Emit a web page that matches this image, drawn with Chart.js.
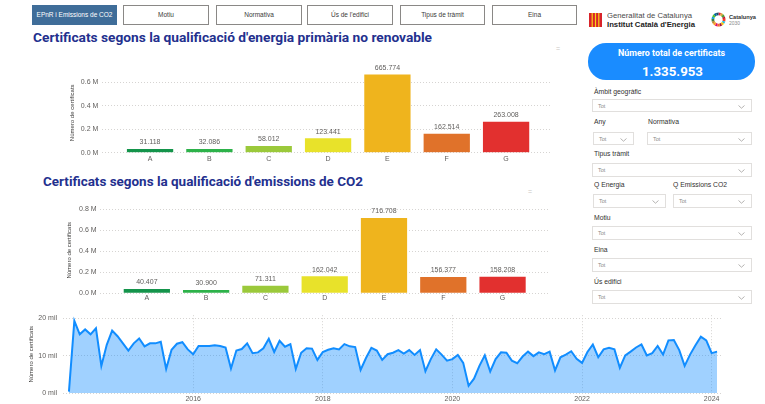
<!DOCTYPE html>
<html>
<head>
<meta charset="utf-8">
<script src="https://cdn.jsdelivr.net/npm/chart.js@4.4.1/dist/chart.umd.min.js"></script>
<style>
    body { margin: 0; width: 765px; height: 404px; background: #fff; position: relative; overflow: hidden; font-family: 'Liberation Sans', Arial, sans-serif; }
    .abs { position: absolute; }
    .btn { position: absolute; top: 5px; height: 20px; box-sizing: border-box; border: 1px solid #8a8886; background: #fff; color: #3b3a39; font-size: 6.5px; line-height: 18px; text-align: center; }
    .btn.active { background: #3f6d99; border-color: #3f6d99; color: #fff; }
    .fit { position: absolute; white-space: nowrap; transform-origin: left center; }
    .title { font-family: Roboto, sans-serif; font-weight: 700; font-size: 13px; line-height: 16px; color: #23308e; }
    .lbl { position: absolute; font-size: 6.8px; color: #323130; white-space: nowrap; }
    .dd { position: absolute; box-sizing: border-box; border: 1px solid #e1dfdd; background: #fff; }
    .dd span { position: absolute; left: 5px; top: 0; font-size: 5.5px; line-height: 12px; color: #8a8886; }
    .dd svg { position: absolute; right: 6px; top: 5px; }
    .kpi { position: absolute; left: 588px; top: 43px; width: 167px; height: 37px; border-radius: 18px; background: #1a8cff; }
    .chartbox { position: absolute; }
</style>
</head>
<body>

<div class="btn active" style="left:32px;width:85px;">EPnR i Emissions de CO2</div>
<div class="btn" style="left:123px;width:86px;">Motiu</div>
<div class="btn" style="left:216px;width:86px;">Normativa</div>
<div class="btn" style="left:307px;width:86px;">Ús de l'edifici</div>
<div class="btn" style="left:400px;width:85px;">Tipus de tràmit</div>
<div class="btn" style="left:492px;width:85px;">Eina</div>

<!-- logos -->
<svg class="abs" style="left:589px;top:13px;" width="13" height="14" viewBox="0 0 13 14">
    <rect x="0" y="0" width="13" height="14" fill="#d8232a"/>
    <rect x="2.6" y="0" width="1.2" height="14" fill="#f7d117"/>
    <rect x="5.9" y="0" width="1.2" height="14" fill="#f7d117"/>
    <rect x="9.2" y="0" width="1.2" height="14" fill="#f7d117"/>
</svg>
<div class="fit" data-w="85" style="left:607px;top:11px;font-size:8px;line-height:10px;color:#4a4a4a;">Generalitat de Catalunya</div>
<div class="fit" data-w="88" style="left:607px;top:19.5px;font-size:8px;line-height:10px;font-weight:700;color:#222;">Institut Català d'Energia</div>
<svg id="ring" class="abs" style="left:711px;top:12px;" width="15" height="15" viewBox="-7.5 -7.5 15 15"></svg>
<div class="fit" data-w="27" style="left:729px;top:13.5px;font-size:5px;line-height:6px;font-weight:700;color:#333;">Catalunya</div>
<div class="fit" data-w="11" style="left:729px;top:19.5px;font-size:5px;line-height:6px;color:#888;">2030</div>

<!-- titles -->
<div class="fit title" data-w="399" style="left:33px;top:30px;">Certificats segons la qualificació d'energia primària no renovable</div>
<div class="fit title" data-w="320" style="left:43px;top:174px;">Certificats segons la qualificació d'emissions de CO2</div>
<div class="abs" style="left:556px;top:45px;font-size:7px;color:#c8c6c4;">=</div>
<div class="abs" style="left:528px;top:188px;font-size:7px;color:#c8c6c4;">=</div>

<!-- KPI -->
<div class="kpi"></div>
<div class="fit" data-w="107" style="left:618px;top:47px;font-family:Roboto,sans-serif;font-weight:700;font-size:9.5px;line-height:12px;color:#fff;">Número total de certificats</div>
<div class="fit" data-w="61" style="left:641.5px;top:62px;font-family:Roboto,sans-serif;font-weight:700;font-size:13.5px;line-height:18px;color:#fff;">1.335.953</div>

<div id="slicers"></div>

<div class="chartbox" style="left:60px;top:50px;width:500px;height:116px;"><canvas id="chartEnergia"></canvas></div>
<div class="chartbox" style="left:60px;top:195px;width:500px;height:108px;"><canvas id="chartEmissions"></canvas></div>
<div class="chartbox" style="left:20px;top:305px;width:725px;height:99px;"><canvas id="chartMensual"></canvas></div>

<script>
// Dades
var categories = ['A', 'B', 'C', 'D', 'E', 'F', 'G'];
var energiaValues = [31118, 32086, 58012, 123441, 665774, 162514, 263008];
var emissionsValues = [40407, 30900, 71311, 162042, 716708, 156377, 158208];
var barColors = ['#14944b', '#2db24a', '#9bc93b', '#e8e22a', '#efb41d', '#e0722a', '#e2302f'];

// certificats per mes, des de febrer 2014 fins a febrer 2024
var firstYear = 2014;
var firstMonth = 2;
var monthlyValues = [
    450, 19300, 15700, 17000, 15700, 17300, 7300, 12900, 16700, 15200, 13300,           // 2014
    11400, 13300, 14600, 12500, 13300, 13300, 13700, 6500, 11600, 13200, 13600, 11700, // 2015
    10400, 12600, 12600, 12600, 12800, 12600, 12200, 6600, 11400, 11800, 13300, 10700, // 2016
    10900, 12000, 14500, 11000, 14000, 12400, 13100, 6500, 10800, 12000, 11900, 8900,  // 2017
    11000, 11600, 12000, 11700, 13100, 12500, 12300, 6200, 9400, 12100, 11400, 8900,   // 2018
    10400, 10800, 11500, 10600, 11500, 10200, 11500, 5900, 9100, 11700, 10300, 8700,   // 2019
    9100, 10200, 8100, 2000, 3900, 7300, 10100, 5800, 9100, 10900, 10800, 8700,        // 2020
    8000, 9800, 11100, 9900, 10900, 10400, 11100, 6100, 9600, 10300, 11200, 9200,      // 2021
    8100, 11000, 13000, 9600, 11700, 12100, 11700, 6800, 10100, 11100, 12200, 13000,   // 2022
    10100, 10700, 12600, 10300, 14100, 14200, 11500, 7300, 10300, 12800, 15100, 14100, // 2023
    10700, 11100                                                                      // 2024
];
var yearTicks = [2016, 2018, 2020, 2022, 2024];

var energiaTicks = [0, 200000, 400000, 600000];
var emissionsTicks = [0, 200000, 400000, 600000, 800000];
var mensualTicks = [0, 10000, 20000];

// slicers (filtres de la dreta)
var slicerLabels = [
    ['Àmbit geogràfic', 594, 88], ['Any', 594, 118], ['Normativa', 648, 118], ['Tipus tràmit', 594, 150],
    ['Q Energia', 594, 181], ['Q Emissions CO2', 673, 181], ['Motiu', 594, 214], ['Eina', 594, 246], ['Ús edifici', 594, 278]
];
var slicerBoxes = [
    [592, 99, 160, 13], [593, 131.5, 41, 13.5], [647, 131.5, 105, 13.5], [592, 163, 160, 13.5],
    [593, 194, 73, 13.5], [673, 194, 79, 13.5], [592, 226, 160, 13.5], [592, 258, 160, 13.5], [592, 290, 160, 13.5]
];

function formatThousands(v) {
    return String(v).replace(/\B(?=(\d{3})+(?!\d))/g, '.');
}

function buildSlicers() {
    var container = document.getElementById('slicers');
    slicerLabels.forEach(function(l) {
        var d = document.createElement('div');
        d.className = 'lbl';
        d.textContent = l[0];
        d.style.left = l[1] + 'px';
        d.style.top = l[2] + 'px';
        container.appendChild(d);
    });
    slicerBoxes.forEach(function(b) {
        var d = document.createElement('div');
        d.className = 'dd';
        d.style.left = b[0] + 'px';
        d.style.top = b[1] + 'px';
        d.style.width = b[2] + 'px';
        d.style.height = b[3] + 'px';
        d.innerHTML = '<span>Tot</span><svg width="7" height="4"><polyline points="0.5,0.5 3.5,3.2 6.5,0.5" fill="none" stroke="#a19f9d" stroke-width="0.8"/></svg>';
        container.appendChild(d);
    });
}

function buildRing() {
    var sdg = ['#e5243b', '#dda63a', '#4c9f38', '#c5192d', '#ff3a21', '#26bde2', '#fcc30b', '#a21942', '#fd6925',
               '#dd1367', '#fd9d24', '#bf8b2e', '#3f7e44', '#0a97d9', '#56c02b', '#00689d', '#19486a'];
    var svg = document.getElementById('ring');
    var n = sdg.length, html = '';
    for (var i = 0; i < n; i++) {
        var a0 = (i / n) * 2 * Math.PI - Math.PI / 2, a1 = ((i + 1) / n) * 2 * Math.PI - Math.PI / 2;
        var ro = 7, ri = 4.2;
        html += '<path fill="' + sdg[i] + '" d="M' + (ro * Math.cos(a0)) + ' ' + (ro * Math.sin(a0)) +
            ' A' + ro + ' ' + ro + ' 0 0 1 ' + (ro * Math.cos(a1)) + ' ' + (ro * Math.sin(a1)) +
            ' L' + (ri * Math.cos(a1)) + ' ' + (ri * Math.sin(a1)) +
            ' A' + ri + ' ' + ri + ' 0 0 0 ' + (ri * Math.cos(a0)) + ' ' + (ri * Math.sin(a0)) + ' Z"/>';
    }
    svg.innerHTML = html;
}

function fitTexts() {
    document.querySelectorAll('.fit').forEach(function(el) {
        var target = parseFloat(el.dataset.w);
        var w = el.getBoundingClientRect().width;
        if (w > 0) el.style.transform = 'scaleX(' + (target / w) + ')';
    });
}

var tickFont = { family: "'Liberation Sans', Arial, sans-serif", size: 7 };
var tickColor = '#605e5c';
var gridColor = '#d6d4d2';

// etiquetes de dades sobre les barres
var barLabels = {
    id: 'barLabels',
    afterDatasetsDraw: function(chart) {
        var ctx = chart.ctx;
        var meta = chart.getDatasetMeta(0);
        ctx.save();
        ctx.font = "7px 'Liberation Sans', Arial, sans-serif";
        ctx.fillStyle = tickColor;
        ctx.textAlign = 'center';
        ctx.textBaseline = 'bottom';
        meta.data.forEach(function(bar, i) {
            ctx.fillText(formatThousands(chart.data.datasets[0].data[i].y), bar.x, bar.y - 3);
        });
        ctx.restore();
    }
};

function barChart(canvasId, values, ticks, opts) {
    var ctx = document.getElementById(canvasId).getContext('2d');
    return new Chart(ctx, {
        type: 'bar',
        data: {
            datasets: [{
                data: values.map(function(v, i) { return { x: i, y: v }; }),
                backgroundColor: barColors,
                borderWidth: 0,
                categoryPercentage: 1,
                barPercentage: 0.78
            }]
        },
        options: {
            responsive: true,
            maintainAspectRatio: false,
            animation: false,
            layout: { padding: opts.padding },
            plugins: { legend: { display: false }, tooltip: { enabled: false } },
            scales: {
                x: {
                    type: 'linear',
                    offset: false,
                    min: opts.xMin,
                    max: opts.xMax,
                    grid: { display: false, drawTicks: false, offset: false },
                    border: { display: false },
                    afterFit: function(scale) { scale.height = opts.xHeight; },
                    ticks: {
                        stepSize: 1,
                        includeBounds: false,
                        autoSkip: false,
                        maxRotation: 0,
                        padding: opts.xPad,
                        font: tickFont,
                        color: tickColor,
                        callback: function(v) { return categories[v] !== undefined && Number.isInteger(v) ? categories[v] : null; }
                    }
                },
                y: {
                    min: 0,
                    max: opts.yMax,
                    afterFit: function(scale) { scale.width = opts.yWidth; },
                    afterBuildTicks: function(scale) { scale.ticks = ticks.map(function(t) { return { value: t }; }); },
                    grid: { color: gridColor, drawTicks: false, lineWidth: 1 },
                    border: { display: false, dash: [1, 2] },
                    title: { display: true, text: 'Número de certificats', font: { family: tickFont.family, size: 6 }, color: '#3b3a39', padding: { top: 4, bottom: 0 } },
                    ticks: {
                        padding: 3.4,
                        font: tickFont,
                        color: tickColor,
                        callback: function(v) { return (v / 1000000).toFixed(1) + ' M'; }
                    }
                }
            }
        },
        plugins: [barLabels]
    });
}

function generateMensual() {
    var ctx = document.getElementById('chartMensual').getContext('2d');
    // x = mesos des de gener de l'any inicial
    var points = monthlyValues.map(function(v, i) { return { x: firstMonth - 1 + i, y: v }; });
    var tickMonths = yearTicks.map(function(y) { return (y - firstYear) * 12; });
    new Chart(ctx, {
        type: 'line',
        data: {
            datasets: [{
                data: points,
                borderColor: '#118dff',
                backgroundColor: 'rgba(17, 141, 255, 0.4)',
                borderWidth: 2,
                pointRadius: 0,
                tension: 0,
                fill: 'origin'
            }]
        },
        options: {
            responsive: true,
            maintainAspectRatio: false,
            animation: false,
            layout: { padding: { left: 3.5, right: 22, top: 6.5, bottom: 0 } },
            plugins: { legend: { display: false }, tooltip: { enabled: false } },
            scales: {
                x: {
                    type: 'linear',
                    min: -0.1,
                    max: 122.1,
                    afterFit: function(scale) { scale.height = 10.7; },
                    afterBuildTicks: function(scale) { scale.ticks = tickMonths.map(function(t) { return { value: t }; }); },
                    grid: { color: gridColor, drawTicks: false },
                    border: { display: false, dash: [1, 2] },
                    ticks: {
                        autoSkip: false,
                        maxRotation: 0,
                        padding: 2,
                        font: tickFont,
                        color: tickColor,
                        callback: function(v) { return String(firstYear + v / 12); }
                    }
                },
                y: {
                    min: 0,
                    max: 20800,
                    afterFit: function(scale) { scale.width = 39.5; },
                    afterBuildTicks: function(scale) { scale.ticks = mensualTicks.map(function(t) { return { value: t }; }); },
                    grid: { color: gridColor, drawTicks: false },
                    border: { display: false, dash: [1, 2] },
                    title: { display: true, text: 'Número de certificats', font: { family: tickFont.family, size: 6 }, color: '#3b3a39', padding: { top: 4, bottom: 0 } },
                    ticks: {
                        padding: 6,
                        font: tickFont,
                        color: tickColor,
                        callback: function(v) { return (v / 1000) + ' mil'; }
                    }
                }
            }
        }
    });
}

document.addEventListener('DOMContentLoaded', function() {
    buildSlicers();
    buildRing();
    fitTexts();

    barChart('chartEnergia', energiaValues, energiaTicks, {
        padding: { left: 4.8, right: 10, top: 22.9, bottom: 0 },
        xMin: -0.815, xMax: 6.74, xHeight: 13.3, xPad: 2.5,
        yMax: 680000, yWidth: 36.9
    });
    barChart('chartEmissions', emissionsValues, emissionsTicks, {
        padding: { left: 1.8, right: 10, top: 12.2, bottom: 0 },
        xMin: -0.79, xMax: 6.8, xHeight: 9.7, xPad: 1,
        yMax: 820000, yWidth: 38.2
    });
    generateMensual();
});
</script>
</body>
</html>
